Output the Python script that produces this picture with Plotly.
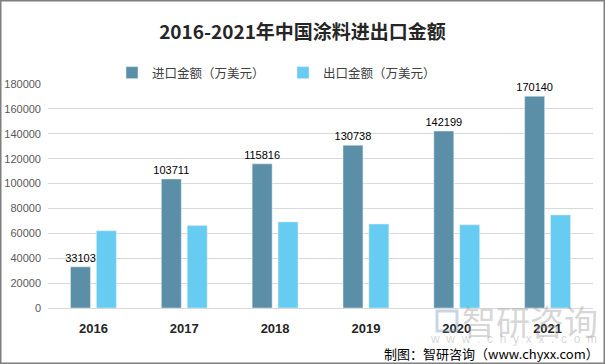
import plotly.graph_objects as go

years = ["2016", "2017", "2018", "2019", "2020", "2021"]
import_vals = [33103, 103711, 115816, 130738, 142199, 170140]
export_vals = [62000, 66200, 69200, 67500, 66800, 74800]
series_names = ["进口金额（万美元）", "出口金额（万美元）"]
y_ticks = [0, 20000, 40000, 60000, 80000, 100000, 120000, 140000, 160000, 180000]

W, H = 605, 364
ml, mr, mt, mb = 48, 12, 84, 56
pw, ph = W - ml - mr, H - mt - mb

font_cjk = "Noto Sans CJK SC, Noto Sans, sans-serif"

fig = go.Figure()
fig.add_trace(go.Bar(
    x=years, y=import_vals, name=series_names[0],
    marker_color="#5B8FA7",
    text=[str(v) for v in import_vals], textposition="outside",
    textfont=dict(size=11, color="#000000", family="Liberation Sans, Arial"),
    constraintext="none", cliponaxis=False,
))
fig.add_trace(go.Bar(
    x=years, y=export_vals, name=series_names[1],
    marker_color="#66CCF2",
))

def px_x(p):
    return (p - ml) / pw

def px_y(p):
    return (H - mb - p) / ph

fig.update_layout(
    width=W, height=H,
    margin=dict(l=ml, r=mr, t=mt, b=mb, autoexpand=False),
    paper_bgcolor="white", plot_bgcolor="white",
    barmode="group", bargap=0.43, bargroupgap=0.23,
    title=dict(text="<b>2016-2021年中国涂料进出口金额</b>", x=0.5, xanchor="center",
               y=1 - 32 / H, yanchor="middle",
               font=dict(size=19, color="#262626", family=font_cjk)),
    legend=dict(orientation="h", x=px_x(112), xanchor="left", y=px_y(73), yanchor="middle",
                entrywidth=126, entrywidthmode="pixels",
                font=dict(size=12.5, color="#404040", family=font_cjk),
                bgcolor="rgba(0,0,0,0)", itemwidth=30),
    xaxis=dict(tickfont=dict(size=13, color="#262626", family="Liberation Sans, Arial"),
               tickprefix="<b>", ticksuffix="</b>", showline=True, linecolor="#D9D9D9",
               ticks="", ticklabelstandoff=8, automargin=False),
    yaxis=dict(range=[0, 180000], tickvals=y_ticks, ticktext=[str(v) for v in y_ticks],
               tickfont=dict(size=11, color="#595959", family="Liberation Sans, Arial"),
               showgrid=True, gridcolor="#D9D9D9", zeroline=False, ticks="",
               ticklabelstandoff=6, automargin=False),
    showlegend=True,
)

# outer border
fig.add_shape(type="rect", xref="paper", yref="paper",
              x0=px_x(0.75), x1=px_x(W - 0.75), y0=px_y(H - 0.75), y1=px_y(0.75),
              line=dict(color="#7F7F7F", width=1.5), fillcolor="rgba(0,0,0,0)", layer="above")

# watermark
fig.add_annotation(xref="paper", yref="paper", x=px_x(530), y=px_y(320),
                   text="智研咨询", showarrow=False, xanchor="center", yanchor="middle",
                   font=dict(size=34, color="rgba(150,150,150,0.4)", family=font_cjk))
fig.add_annotation(xref="paper", yref="paper", x=px_x(513), y=px_y(339),
                   text="w  w  w  .  c  h  y  x  x  .  c  o  m", showarrow=False,
                   xanchor="center", yanchor="middle",
                   font=dict(size=12, color="rgba(150,150,150,0.4)", family="Liberation Sans, Arial"))
fig.add_shape(type="rect", xref="paper", yref="paper",
              x0=px_x(437), x1=px_x(457), y0=px_y(331), y1=px_y(311),
              line=dict(color="rgba(120,150,190,0.4)", width=3), fillcolor="rgba(0,0,0,0)")

# source
fig.add_annotation(xref="paper", yref="paper", x=px_x(601), y=px_y(353),
                   text="制图：智研咨询（www.chyxx.com）", showarrow=False,
                   xanchor="right", yanchor="middle",
                   font=dict(size=13, color="#000000", family=font_cjk))

fig.write_html("out.html", config={"displayModeBar": False},
               post_script="document.body.style.margin='0';document.body.style.overflow='hidden';")
